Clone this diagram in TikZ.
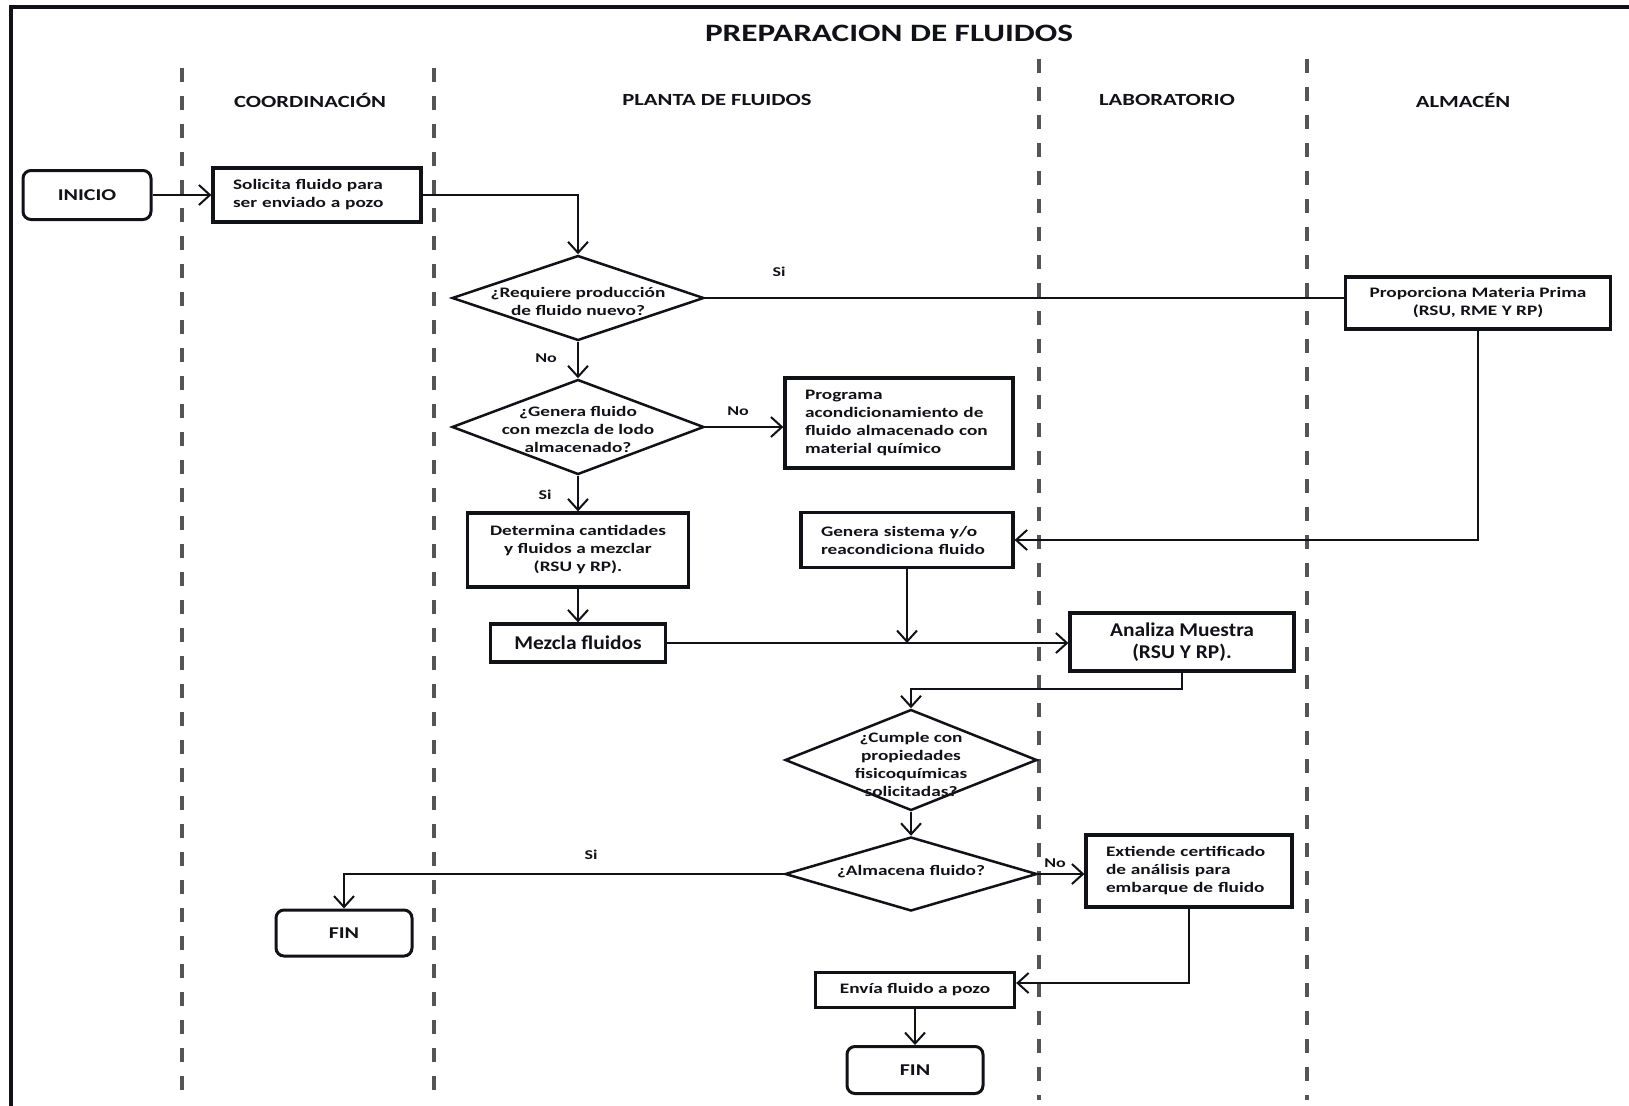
\documentclass[tikz,border=0pt]{standalone}
\usepackage{fontspec}
\usetikzlibrary{shapes.geometric,arrows.meta,calc}
\setmainfont{Carlito}
\newfontfamily\widefont{Carlito}[FakeStretch=1.33]
\newfontfamily\midfont{Carlito}[FakeStretch=1.1]
\newcommand\boxtxt{\widefont\bfseries\fontsize{14.5}{18}\selectfont}
\newcommand\bigtxt{\midfont\bfseries\fontsize{19.5}{22}\selectfont}
\newcommand\termtxt{\widefont\bfseries\fontsize{16.5}{19}\selectfont}
\newcommand\lbltxt{\widefont\bfseries\fontsize{13.5}{16}\selectfont}
\newcommand\hdrtxt{\widefont\bfseries\fontsize{17}{20}\selectfont}
\newcommand\ttltxt{\widefont\bfseries\fontsize{25}{30}\selectfont}
\definecolor{ink}{HTML}{111118}
\definecolor{lanegray}{HTML}{555555}
\tikzset{
  box/.style={draw=ink, line width=3.2pt, fill=white, inner sep=0pt, text=ink,
    font=\boxtxt, align=center, minimum width=#1},
  lbox/.style={box=0pt, align=left, inner xsep=20pt, text width=#1},
  term/.style={draw=ink, line width=3pt, fill=white, rounded corners=8pt, inner sep=0pt,
    text=ink, font=\termtxt, minimum width=136pt, minimum height=47pt},
  decision/.style={diamond, draw=ink, line width=2.5pt, fill=white, inner sep=0pt},
  dtext/.style={text=ink, font=\boxtxt, align=center, inner sep=0pt},
  lbl/.style={text=ink, font=\lbltxt, inner sep=0pt},
  hdr/.style={text=ink, font=\hdrtxt, inner sep=0pt},
  lane/.style={draw=lanegray, line width=3.5pt, dash pattern=on 14pt off 14pt},
  line/.style={draw=ink, line width=2pt},
  arr/.style={line, -{Straight Barb[length=11pt,width=20pt]}}
}
\begin{document}
\begin{tikzpicture}[x=1pt,y=-1pt]
\useasboundingbox (0,0) rectangle (1629,1105);
\fill[white] (0,0) rectangle (1629,1105);

% outer frame (left and top edges)
\draw[ink, line width=4pt] (11,1110) -- (11,7) -- (1640,7);

% swimlane separators
\draw[lane] (182,68) -- (182,1100);
\draw[lane] (434,68) -- (434,1100);
\draw[lane] (1039,59) -- (1039,1100);
\draw[lane] (1307,59) -- (1307,1100);

% title and lane headers
\node[text=ink, font=\ttltxt, inner sep=0pt] (title) at (889,33) {PREPARACION DE FLUIDOS};
\node[hdr] (h1) at (310,100) {COORDINACIÓN};
\node[hdr] (h2) at (717,100) {PLANTA DE FLUIDOS};
\node[hdr] (h3) at (1167,100) {LABORATORIO};
\node[hdr] (h4) at (1463,100) {ALMACÉN};

% process nodes
\node[term, minimum width=128pt, minimum height=49pt] (ini) at (87,195) {INICIO};
\node[lbox=168pt, minimum height=54pt] (sol) at (317,195) {Solicita fluido para\\ser enviado a pozo};

\node[decision, minimum width=252pt, minimum height=85pt] (d1) at (578,298) {};
\node[dtext] (d1t) at (578,301) {¿Requiere producción\\de fluido nuevo?};

\node[box=265pt, minimum height=52pt] (prop) at (1478,303) {Proporciona Materia Prima\\(RSU, RME Y RP)};

\node[decision, minimum width=252pt, minimum height=95pt] (d2) at (578,427) {};
\node[dtext] (d2t) at (578,429) {¿Genera fluido\\con mezcla de lodo\\almacenado?};

\node[lbox=188pt, minimum height=90pt] (prog) at (899,423) {Programa\\acondicionamiento de\\fluido almacenado con\\material químico};

\node[box=221pt, minimum height=74pt] (det) at (578,550) {Determina cantidades\\y fluidos a mezclar\\(RSU y RP).};
\node[lbox=172pt, minimum height=55pt] (gen) at (907,540) {Genera sistema y/o\\reacondiciona fluido};

\node[box=175pt, minimum height=38pt, font=\bigtxt] (mez) at (578,643) {Mezcla fluidos};
\node[box=224pt, minimum height=58pt, font=\bigtxt] (ana) at (1182,642) {Analiza Muestra\\(RSU Y RP).};

\node[decision, minimum width=252pt, minimum height=101pt] (d3) at (911,760) {};
\node[dtext] (d3t) at (911,764) {¿Cumple con\\propiedades\\fisicoquímicas\\solicitadas?};

\node[decision, minimum width=252pt, minimum height=74pt] (d4) at (911,874) {};
\node[dtext] (d4t) at (911,872) {¿Almacena fluido?};

\node[lbox=166pt, minimum height=72pt] (ext) at (1189,871) {Extiende certificado\\de análisis para\\embarque de fluido};

\node[term, minimum height=46pt] (fin1) at (344,933) {FIN};
\node[box=199pt, minimum height=35pt] (env) at (915,990) {Envía fluido a pozo};
\node[term] (fin2) at (915,1070) {FIN};

% connectors
\draw[arr] (ini.east) -- (sol.west);
\draw[arr] (sol.east) -| (d1.north);
\draw[line] (d1.east) -- (d1.east -| prop.west);
\draw[arr] (prop.south) |- (gen.east);
\draw[arr] (d1.south) -- (d2.north);
\draw[arr] (d2.east) -- (d2.east -| prog.west);
\draw[arr] (d2.south) -- (det.north);
\draw[arr] (det.south) -- (mez.north);
\coordinate (join) at (gen.south |- mez.east);
\draw[arr] (mez.east) -- (mez.east -| ana.west);
\draw[arr] (gen.south) -- (join);
\draw[arr] (ana.south) -- ++(0,16) -| (d3.north);
\draw[arr] (d3.south) -- (d4.north);
\draw[arr] (d4.west) -| (fin1.north);
\draw[arr] (d4.east) -- (d4.east -| ext.west);
\draw[arr] (ext.south) |- ([yshift=7pt]env.east);
\draw[arr] (env.south) -- (fin2.north);

% branch labels
\node[lbl] (l1) at (779,272) {Si};
\node[lbl] (l2) at (546,358) {No};
\node[lbl] (l3) at (738,411) {No};
\node[lbl] (l4) at (545,495) {Si};
\node[lbl] (l5) at (591,855) {Si};
\node[lbl] (l6) at (1055,863) {No};
\end{tikzpicture}
\end{document}
